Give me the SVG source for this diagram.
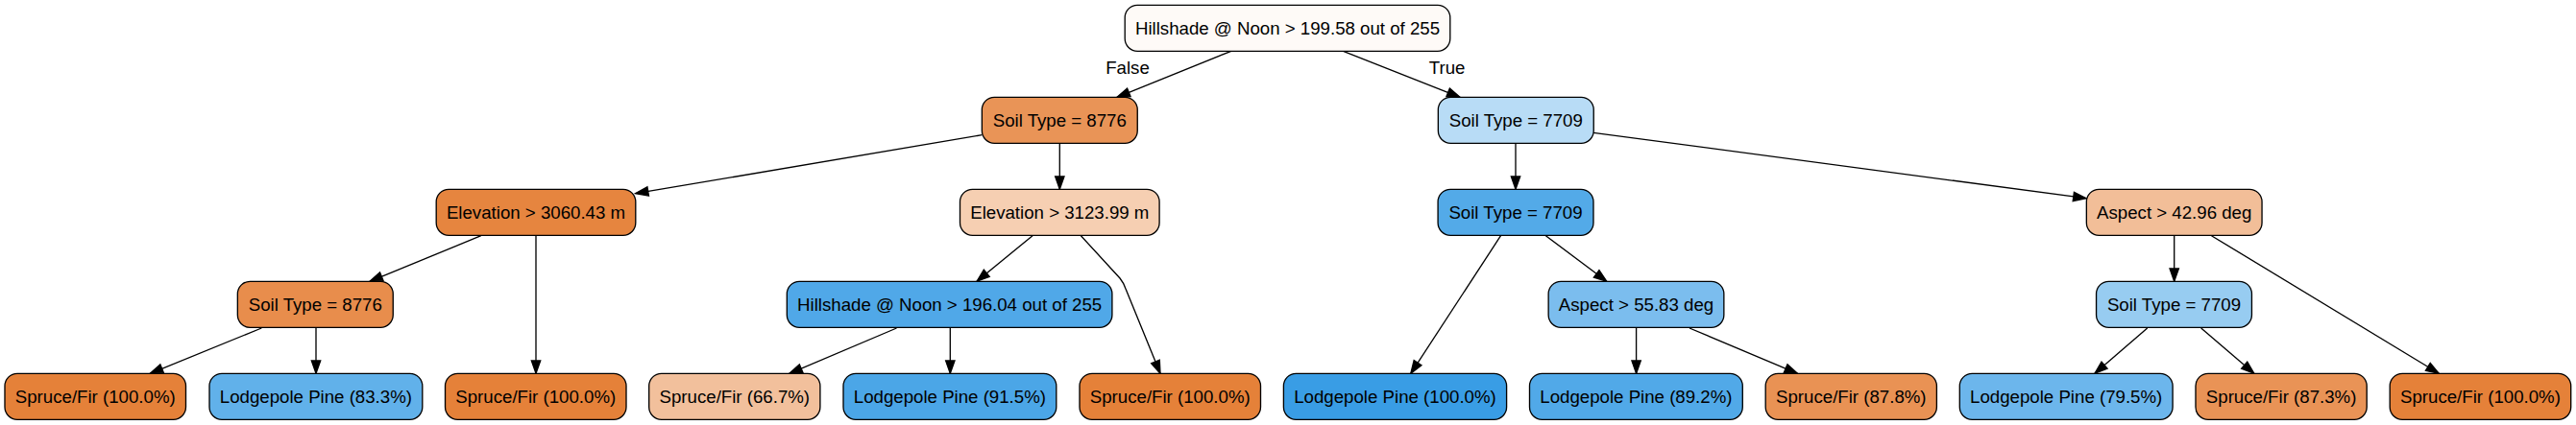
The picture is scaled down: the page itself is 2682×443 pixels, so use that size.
<svg xmlns="http://www.w3.org/2000/svg" width="2682" height="443" viewBox="0 0 2682 443">
<defs>
<marker id="arr" markerUnits="userSpaceOnUse" markerWidth="16" markerHeight="12" refX="13.3" refY="4.67" orient="auto" overflow="visible">
<path d="M0,0 L13.3,4.67 L0,9.33 Z" fill="#000" stroke="#000" stroke-width="1.33" stroke-linejoin="miter"/>
</marker>
<style>
.n rect{stroke:#000;stroke-width:1.33}
.n text,.lbl{font-family:"Liberation Sans",Arial,Helvetica,sans-serif;font-size:18.67px;fill:#000;text-anchor:middle}
#edges path{fill:none;stroke:#000;stroke-width:1.33;marker-end:url(#arr)}
</style>
</defs>
<rect width="2682" height="443" fill="#fff"/>
<g id="edges">
<path d="M1281.8,53.3 L1163,101.3"/>
<path d="M1398.5,53.3 L1520,101.3"/>
<path d="M1022.4,140.7 L661.6,201.7"/>
<path d="M1103.3,149.3 L1103.3,197.3"/>
<path d="M1578,149.3 L1578,197.3"/>
<path d="M1659,138.3 L2172,206.7"/>
<path d="M500.9,245.7 L385,293.3"/>
<path d="M558,245.3 L558,389.3"/>
<path d="M1075,245.7 L1017,293.3"/>
<path d="M1125.4,245.7 L1166,290 Q1170,295 1172,301 L1208,389.3"/>
<path d="M1562.5,245.7 L1468.8,389.3"/>
<path d="M1609.4,245.7 L1672.8,293.3"/>
<path d="M2263.7,245.3 L2263.7,293.3"/>
<path d="M2302.5,245.7 L2539.2,389.3"/>
<path d="M272.3,342 L156.3,389.3"/>
<path d="M329,341.3 L329,389.3"/>
<path d="M933.5,342 L821.9,389.3"/>
<path d="M989.3,341.3 L989.3,389.3"/>
<path d="M1703.6,341.3 L1703.6,389.3"/>
<path d="M1759,342 L1871.4,389.3"/>
<path d="M2235.7,342 L2181,389.3"/>
<path d="M2291.7,342 L2346.8,389.3"/>
<text class="lbl" x="1174" y="77">False</text>
<text class="lbl" x="1506.6" y="77">True</text>
</g>
<g id="root" class="n"><rect x="1171.2" y="5.33" width="338.6" height="48" rx="13" fill="#fefaf7"/><text x="1340.5" y="35.8">Hillshade @ Noon &gt; 199.58 out of 255</text></g>
<g id="n_soil8776_a" class="n"><rect x="1022.35" y="101.33" width="161.9" height="48" rx="13" fill="#e99457"/><text x="1103.3" y="131.8">Soil Type = 8776</text></g>
<g id="n_soil7709_a" class="n"><rect x="1497.35" y="101.33" width="161.9" height="48" rx="13" fill="#b8dcf6"/><text x="1578.3" y="131.8">Soil Type = 7709</text></g>
<g id="n_elev3060" class="n"><rect x="454.2" y="197.33" width="207.6" height="48" rx="13" fill="#e6853f"/><text x="558" y="227.8">Elevation &gt; 3060.43 m</text></g>
<g id="n_elev3123" class="n"><rect x="999.5" y="197.33" width="207.6" height="48" rx="13" fill="#f6cfb2"/><text x="1103.3" y="227.8">Elevation &gt; 3123.99 m</text></g>
<g id="n_soil7709_b" class="n"><rect x="1497.1" y="197.33" width="161.9" height="48" rx="13" fill="#53aae8"/><text x="1578" y="227.8">Soil Type = 7709</text></g>
<g id="n_aspect4296" class="n"><rect x="2172.35" y="197.33" width="182.7" height="48" rx="13" fill="#f2be98"/><text x="2263.7" y="227.8">Aspect &gt; 42.96 deg</text></g>
<g id="n_soil8776_b" class="n"><rect x="247.35" y="293.33" width="161.9" height="48" rx="13" fill="#e88d4c"/><text x="328.3" y="323.8">Soil Type = 8776</text></g>
<g id="n_hill196" class="n"><rect x="819.3" y="293.33" width="338.6" height="48" rx="13" fill="#50a8e8"/><text x="988.6" y="323.8">Hillshade @ Noon &gt; 196.04 out of 255</text></g>
<g id="n_aspect5583" class="n"><rect x="1612.15" y="293.33" width="182.7" height="48" rx="13" fill="#7bbdee"/><text x="1703.5" y="323.8">Aspect &gt; 55.83 deg</text></g>
<g id="n_soil7709_c" class="n"><rect x="2182.55" y="293.33" width="161.9" height="48" rx="13" fill="#97ccf1"/><text x="2263.5" y="323.8">Soil Type = 7709</text></g>
<g id="leaf1" class="n"><rect x="5" y="389.33" width="188.5" height="48" rx="13" fill="#e58139"/><text x="99.25" y="419.8">Spruce/Fir (100.0%)</text></g>
<g id="leaf2" class="n"><rect x="218" y="389.33" width="221.8" height="48" rx="13" fill="#61b1ea"/><text x="328.9" y="419.8">Lodgepole Pine (83.3%)</text></g>
<g id="leaf3" class="n"><rect x="463.5" y="389.33" width="188.5" height="48" rx="13" fill="#e58139"/><text x="557.75" y="419.8">Spruce/Fir (100.0%)</text></g>
<g id="leaf4" class="n"><rect x="675.7" y="389.33" width="178.2" height="48" rx="13" fill="#f2c09c"/><text x="764.8" y="419.8">Spruce/Fir (66.7%)</text></g>
<g id="leaf5" class="n"><rect x="878" y="389.33" width="221.8" height="48" rx="13" fill="#4ba6e7"/><text x="988.9" y="419.8">Lodgepole Pine (91.5%)</text></g>
<g id="leaf6" class="n"><rect x="1124" y="389.33" width="188.5" height="48" rx="13" fill="#e58139"/><text x="1218.25" y="419.8">Spruce/Fir (100.0%)</text></g>
<g id="leaf7" class="n"><rect x="1336.4" y="389.33" width="232.2" height="48" rx="13" fill="#399de5"/><text x="1452.5" y="419.8">Lodgepole Pine (100.0%)</text></g>
<g id="leaf8" class="n"><rect x="1592.5" y="389.33" width="221.8" height="48" rx="13" fill="#51a9e8"/><text x="1703.4" y="419.8">Lodgepole Pine (89.2%)</text></g>
<g id="leaf9" class="n"><rect x="1838.2" y="389.33" width="178.2" height="48" rx="13" fill="#e99254"/><text x="1927.3" y="419.8">Spruce/Fir (87.8%)</text></g>
<g id="leaf10" class="n"><rect x="2040.3" y="389.33" width="221.8" height="48" rx="13" fill="#6cb6ec"/><text x="2151.2" y="419.8">Lodgepole Pine (79.5%)</text></g>
<g id="leaf11" class="n"><rect x="2286" y="389.33" width="178.2" height="48" rx="13" fill="#e99356"/><text x="2375.1" y="419.8">Spruce/Fir (87.3%)</text></g>
<g id="leaf12" class="n"><rect x="2488.2" y="389.33" width="188.5" height="48" rx="13" fill="#e58139"/><text x="2582.45" y="419.8">Spruce/Fir (100.0%)</text></g>
</svg>
